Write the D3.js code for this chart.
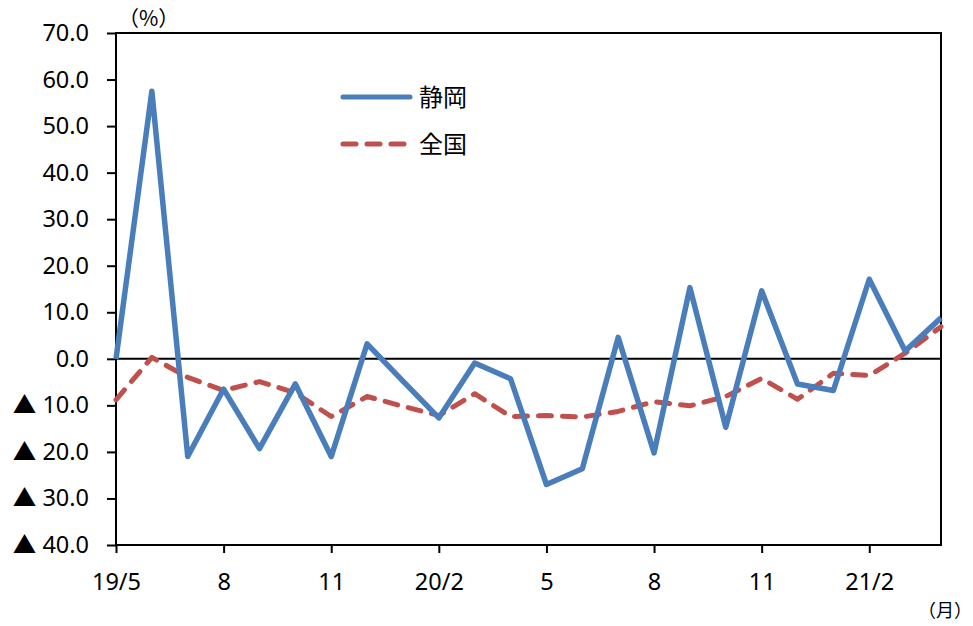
<!DOCTYPE html>
<meta charset="utf-8">
<script src="https://d3js.org/d3.v7.min.js"></script>
<style>
  body { margin: 0; background: #fff; }
  text { font-family: "Noto Sans", "Noto Sans CJK JP", sans-serif; fill: #000; }
</style>
<div id="chart"></div>
<script>
// months 19/5 .. 21/4
var months = ["19/5","6","7","8","9","10","11","12","20/1","2","3","4","5","6","7","8","9","10","11","12","21/1","2","3","4"];
var tickLabels = ["19/5","8","11","20/2","5","8","11","21/2"];
var shizuoka = [0.0, 57.5, -21.0, -6.5, -19.3, -5.4, -21.0, 3.2, -4.8, -12.7, -0.9, -4.3, -27.0, -23.6, 4.6, -20.2, 15.3, -14.7, 14.6, -5.4, -6.8, 17.1, 1.7, 8.8];
var zenkoku  = [-8.8, 0.3, -4.0, -6.8, -4.9, -7.3, -12.4, -8.1, -10.2, -12.2, -7.5, -12.4, -12.2, -12.5, -11.3, -9.2, -10.1, -8.1, -4.2, -8.7, -3.1, -3.6, 1.2, 6.9];
var yTicks = [70, 60, 50, 40, 30, 20, 10, 0, -10, -20, -30, -40];

var width = 973, height = 626;
var plot = {left: 116, right: 941, top: 33, bottom: 545};

var svg = d3.select("#chart").append("svg")
    .attr("width", width)
    .attr("height", height);

var x = d3.scaleLinear().domain([0, months.length - 1]).range([plot.left, plot.right]);
var y = d3.scaleLinear().domain([-40, 70]).range([plot.bottom, plot.top]);

// y axis ticks + labels
var yAxis = d3.axisLeft(y).tickValues(yTicks).tickSize(9).tickPadding(0)
    .tickFormat(function(d) { return ""; });
var gy = svg.append("g").attr("transform", "translate(" + plot.left + ",0)").call(yAxis);
gy.select(".domain").remove();
gy.selectAll("line").attr("stroke", "#000").attr("stroke-width", 2);

svg.selectAll(".ylab")
    .data(yTicks)
    .enter().append("text")
    .attr("class", "ylab")
    .attr("x", 89)
    .attr("y", function(d) { return y(d) + 8; })
    .attr("text-anchor", "end")
    .style("font-size", "23.5px")
    .text(function(d) { return d < 0 ? "▲ " + Math.abs(d).toFixed(1) : d.toFixed(1); });

// x axis ticks every 3 months
var tickIdx = [0, 3, 6, 9, 12, 15, 18, 21];
var xAxis = d3.axisBottom(x).tickValues(tickIdx).tickSize(8).tickPadding(20)
    .tickFormat(function(d, i) { return tickLabels[i]; });
var gx = svg.append("g").attr("transform", "translate(0," + plot.bottom + ")").call(xAxis);
gx.select(".domain").remove();
gx.selectAll("line").attr("stroke", "#000").attr("stroke-width", 2);
gx.selectAll("text").style("font-size", "23.5px").style("font-family", "\"Noto Sans\", sans-serif").attr("fill", "#000");

// zero line
svg.append("line")
    .attr("x1", plot.left).attr("x2", plot.right)
    .attr("y1", y(0)).attr("y2", y(0))
    .attr("stroke", "#000").attr("stroke-width", 2);

// frame
svg.append("rect")
    .attr("x", plot.left).attr("y", plot.top)
    .attr("width", plot.right - plot.left).attr("height", plot.bottom - plot.top)
    .attr("fill", "none").attr("stroke", "#000").attr("stroke-width", 2);

var line = d3.line()
    .x(function(d, i) { return x(i); })
    .y(function(d) { return y(d); });

svg.append("path")
    .datum(zenkoku)
    .attr("d", line)
    .attr("fill", "none")
    .attr("stroke", "#c0504d")
    .attr("stroke-width", 5)
    .attr("stroke-linecap", "round")
    .attr("stroke-linejoin", "round")
    .attr("stroke-dasharray", "13,11");

svg.append("path")
    .datum(shizuoka)
    .attr("d", line)
    .attr("fill", "none")
    .attr("stroke", "#4a7ebb")
    .attr("stroke-width", 5.5)
    .attr("stroke-linejoin", "round");

// legend
var legend = [
  {name: "静岡", color: "#4a7ebb", dash: null, y: 97},
  {name: "全国", color: "#c0504d", dash: "13,11", y: 144}
];
legend.forEach(function(d) {
  svg.append("line")
    .attr("x1", 343).attr("x2", 410)
    .attr("y1", d.y).attr("y2", d.y)
    .attr("stroke", d.color).attr("stroke-width", 5)
    .attr("stroke-linecap", "round")
    .attr("stroke-dasharray", d.dash);
  svg.append("text")
    .attr("x", 419).attr("y", d.y + 9)
    .style("font-size", "24px")
    .style("font-family", "\"Noto Sans CJK JP\", sans-serif")
    .text(d.name);
});

// units
svg.append("text").attr("x", 118).attr("y", 26)
    .style("font-size", "21px")
    .style("font-family", "\"Noto Sans CJK JP\", sans-serif")
    .text("（%）");
svg.append("text").attr("x", 918).attr("y", 617)
    .style("font-size", "18px")
    .style("font-family", "\"Noto Sans CJK JP\", sans-serif")
    .text("（月）");
</script>
